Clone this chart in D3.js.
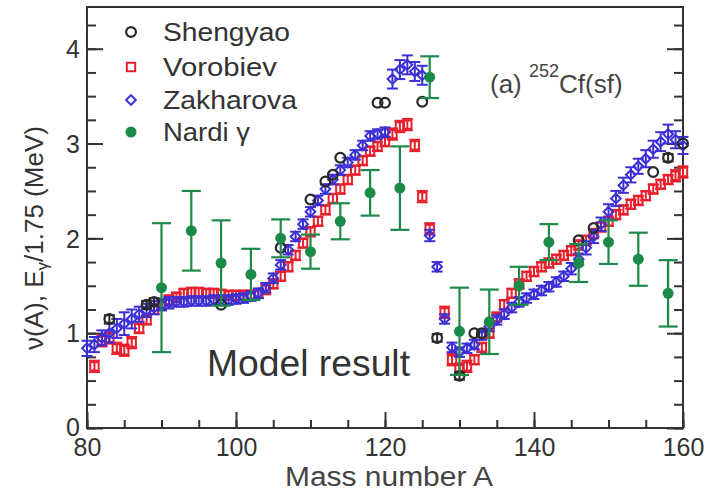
<!DOCTYPE html>
<html><head><meta charset="utf-8">
<script src="https://cdn.jsdelivr.net/npm/d3@7"></script>
<style>
html,body{margin:0;padding:0;background:#fff;}
svg{display:block;font-family:"Liberation Sans",Arial,sans-serif;}
</style></head><body>
<script>
// ---------- data ----------
const xTicks = [80, 100, 120, 140, 160];
const yTicks = [0, 1, 2, 3, 4];

const nardiA   = [90, 94, 98, 102, 106, 110, 114, 118, 122, 126, 130, 134, 138, 142, 146, 150, 154, 158];
const nardiV   = [1.48, 2.08, 1.74, 1.62, 2.00, 1.86, 2.18, 2.48, 2.53, 3.70, 1.02, 1.12, 1.50, 1.96, 1.74, 1.96, 1.78, 1.42];
const nardiErr = [0.68, 0.42, 0.45, 0.27, 0.20, 0.18, 0.19, 0.24, 0.44, 0.22, 0.46, 0.34, 0.20, 0.19, 0.20, 0.23, 0.28, 0.35];

const shengA   = [83, 88, 89, 98, 106, 110, 112, 113, 114, 119, 120, 125, 127, 130, 132, 133, 146, 148, 156, 158, 160];
const shengV   = [1.15, 1.30, 1.33, 1.30, 1.90, 2.41, 2.60, 2.67, 2.85, 3.43, 3.43, 3.44, 0.95, 0.55, 1.00, 1.00, 1.98, 2.11, 2.70, 2.85, 3.00];
const shengErr = [0.04, 0.04, 0.04, 0.00, 0.00, 0.00, 0.00, 0.00, 0.00, 0.00, 0.00, 0.00, 0.04, 0.04, 0.00, 0.00, 0.00, 0.00, 0.00, 0.04, 0.00];

const voroA = [81,82,83,84,85,86,87,88,89,90,91,92,93,94,95,96,97,98,99,100,
               101,102,103,104,105,106,107,108,109,110,111,112,113,114,115,116,117,118,119,120,
               121,122,123,124,125,126,128,129,130,131,132,133,134,135,136,137,138,139,140,
               141,142,143,144,145,146,147,148,149,150,151,152,153,154,155,156,157,158,159,160];
const voroV = [0.65,0.92,0.95,0.84,0.82,0.90,1.05,1.14,1.25,1.30,1.35,1.38,1.42,1.43,1.43,1.42,1.42,1.41,1.40,1.40,
               1.40,1.40,1.42,1.46,1.52,1.60,1.70,1.82,1.95,2.07,2.18,2.30,2.42,2.52,2.62,2.72,2.82,2.92,2.97,3.02,
               3.10,3.18,3.20,2.98,2.44,2.10,1.22,0.72,0.62,0.65,0.72,0.85,1.00,1.17,1.30,1.42,1.52,1.60,1.65,
               1.70,1.74,1.78,1.82,1.87,1.93,1.98,2.05,2.12,2.18,2.25,2.30,2.36,2.40,2.45,2.52,2.57,2.62,2.66,2.70];
const voroErr = [0.06,0.06,0.06,0.06,0.06,0.06,0.05,0.05,0.05,0.05,0.05,0.05,0.05,0.05,0.05,0.05,0.05,0.05,0.05,0.05,
                 0.05,0.05,0.05,0.05,0.05,0.05,0.05,0.05,0.05,0.05,0.05,0.05,0.05,0.05,0.05,0.05,0.05,0.05,0.05,0.05,
                 0.06,0.06,0.06,0.06,0.06,0.06,0.06,0.06,0.06,0.06,0.05,0.05,0.05,0.05,0.05,0.05,0.05,0.05,0.05,
                 0.05,0.05,0.05,0.05,0.05,0.05,0.05,0.05,0.05,0.05,0.05,0.05,0.05,0.05,0.05,0.05,0.05,0.05,0.06,0.06];

const zakA = [80,81,82,83,84,85,86,87,88,89,90,91,92,93,94,95,96,97,98,99,100,
              101,102,103,104,105,106,107,108,109,110,111,112,113,114,115,116,117,118,119,120,
              121,122,123,124,125,126,127,128,129,130,131,132,133,134,135,136,137,138,139,140,
              141,142,143,144,145,146,147,148,149,150,151,152,153,154,155,156,157,158,159,160];
const zakV = [0.84,0.88,0.95,1.00,1.05,1.10,1.15,1.20,1.24,1.27,1.30,1.32,1.33,1.33,1.34,1.34,1.34,1.35,1.35,1.35,1.36,
              1.37,1.39,1.42,1.48,1.58,1.72,1.88,2.02,2.15,2.28,2.40,2.52,2.62,2.72,2.80,2.88,2.98,3.08,3.10,3.12,
              3.68,3.78,3.83,3.76,3.72,2.03,1.70,1.15,0.85,0.80,0.84,0.88,0.98,1.07,1.14,1.20,1.27,1.33,1.37,1.41,
              1.45,1.49,1.54,1.60,1.68,1.78,1.90,2.02,2.15,2.28,2.42,2.56,2.67,2.76,2.84,2.94,3.02,3.10,3.04,2.98];
const zakErr = [0.08,0.08,0.08,0.10,0.10,0.12,0.10,0.08,0.07,0.07,0.06,0.06,0.05,0.05,0.05,0.05,0.05,0.05,0.05,0.05,0.05,
                0.05,0.05,0.05,0.05,0.05,0.05,0.05,0.05,0.05,0.05,0.05,0.05,0.05,0.05,0.05,0.05,0.05,0.05,0.05,0.05,
                0.10,0.10,0.10,0.10,0.10,0.06,0.05,0.05,0.05,0.05,0.05,0.05,0.05,0.05,0.05,0.05,0.05,0.05,0.05,0.05,
                0.05,0.05,0.05,0.05,0.06,0.06,0.07,0.07,0.07,0.08,0.08,0.08,0.08,0.08,0.09,0.09,0.10,0.10,0.09,0.09];

const legendLabels = ["Shengyao", "Vorobiev", "Zakharova", "Nardi \u03B3"];

// ---------- drawing ----------
const W = 710, H = 492;
const svg = d3.select("body").append("svg").attr("width", W).attr("height", H);
const x = d3.scaleLinear().domain([80, 160]).range([87, 683]);
const y = d3.scaleLinear().domain([0, 4.44]).range([428, 7]);

const colBlack = "#2a2a2a", colRed = "#e8202c", colBlue = "#3b2fd6", colGreen = "#1c8a48";
const axisCol = "#333";

// frame
svg.append("rect").attr("x", 87).attr("y", 7).attr("width", 596).attr("height", 421)
  .attr("fill", "none").attr("stroke", axisCol).attr("stroke-width", 2);

function styleAxis(g){
  g.select(".domain").remove();
  g.selectAll(".tick line").attr("stroke", axisCol).attr("stroke-width", 2);
  g.selectAll(".tick text").attr("fill", "#333").style("font-size", "25px")
    .style("font-family", "'Liberation Sans', Arial, sans-serif");
}
const xMinor = d3.range(80, 161, 5);
const yMinor = d3.range(0, 4.44, 0.25);

// bottom axis
svg.append("g").attr("transform", "translate(0,428)")
  .call(d3.axisBottom(x).tickValues(xMinor).tickSize(-8).tickFormat(""))
  .call(styleAxis);
svg.append("g").attr("transform", "translate(0,428)")
  .call(d3.axisBottom(x).tickValues(xTicks).tickSize(-16).tickPadding(10).tickFormat(d3.format("d")))
  .call(styleAxis);
// left axis
svg.append("g").attr("transform", "translate(87,0)")
  .call(d3.axisLeft(y).tickValues(yMinor).tickSize(-9).tickFormat(""))
  .call(styleAxis);
svg.append("g").attr("transform", "translate(87,0)")
  .call(d3.axisLeft(y).tickValues(yTicks).tickSize(-16).tickFormat(d3.format("d")))
  .call(styleAxis)
  .call(g => g.selectAll(".tick text").attr("x", -7).attr("dy", d => d === 0 ? "0.3em" : "0.35em"));
// right axis
svg.append("g").attr("transform", "translate(683,0)")
  .call(d3.axisRight(y).tickValues(yMinor).tickSize(-9).tickFormat(""))
  .call(styleAxis);
svg.append("g").attr("transform", "translate(683,0)")
  .call(d3.axisRight(y).tickValues(yTicks).tickSize(-16).tickFormat(""))
  .call(styleAxis);

// axis titles
svg.append("text").attr("x", 285).attr("y", 486)
  .attr("textLength", 208).attr("lengthAdjust", "spacingAndGlyphs")
  .attr("fill", "#444").style("font-size", "27px").text("Mass number A");
const yt = svg.append("text").attr("transform", "translate(43,238) rotate(-90)")
  .attr("text-anchor", "middle").attr("fill", "#333").style("font-size", "26px");
yt.append("tspan").text("\u03BD(A),  E");
yt.append("tspan").attr("baseline-shift", "-30%").style("font-size", "17px").text("\u03B3");
yt.append("tspan").text("/1.75 (MeV)");

// error bar helper
function errorBars(A, V, E, color, capW, sw){
  const g = svg.append("g").attr("stroke", color).attr("stroke-width", sw).attr("fill", "none");
  A.forEach((a, i) => {
    if (!E[i]) return;
    const cx = x(a), y1 = y(V[i] + E[i]), y2 = y(V[i] - E[i]);
    g.append("line").attr("x1", cx).attr("x2", cx).attr("y1", y1).attr("y2", y2);
    g.append("line").attr("x1", cx - capW/2).attr("x2", cx + capW/2).attr("y1", y1).attr("y2", y1);
    g.append("line").attr("x1", cx - capW/2).attr("x2", cx + capW/2).attr("y1", y2).attr("y2", y2);
  });
}

const symSquare = d3.symbol().type(d3.symbolSquare).size(70);
const symDiamond = d3.symbol().type(d3.symbolDiamond2).size(60);
const symCircle = d3.symbol().type(d3.symbolCircle).size(75);

// Vorobiev (red squares)
errorBars(voroA, voroV, voroErr, colRed, 11, 2);
svg.append("g").selectAll("path").data(voroA).join("path")
  .attr("d", symSquare).attr("transform", (a, i) => `translate(${x(a)},${y(voroV[i])})`)
  .attr("fill", "none").attr("stroke", colRed).attr("stroke-width", 2);

// Zakharova (blue diamonds)
errorBars(zakA, zakV, zakErr, colBlue, 11, 2);
svg.append("g").selectAll("path").data(zakA).join("path")
  .attr("d", symDiamond).attr("transform", (a, i) => `translate(${x(a)},${y(zakV[i])})`)
  .attr("fill", "none").attr("stroke", colBlue).attr("stroke-width", 2);

// Shengyao (black circles)
errorBars(shengA, shengV, shengErr, colBlack, 11, 2);
svg.append("g").selectAll("path").data(shengA).join("path")
  .attr("d", symCircle).attr("transform", (a, i) => `translate(${x(a)},${y(shengV[i])})`)
  .attr("fill", "none").attr("stroke", colBlack).attr("stroke-width", 2.2);

// Nardi gamma (green filled)
errorBars(nardiA, nardiV, nardiErr, colGreen, 19, 2.2);
svg.append("g").selectAll("circle").data(nardiA).join("circle")
  .attr("cx", a => x(a)).attr("cy", (a, i) => y(nardiV[i])).attr("r", 5.5)
  .attr("fill", colGreen);

// legend
const legY = [32, 67, 100, 132];
const legW = [127, 114, 134, 87];
const lg = svg.append("g");
lg.append("path").attr("d", symCircle).attr("transform", `translate(131,${legY[0]})`)
  .attr("fill", "none").attr("stroke", colBlack).attr("stroke-width", 2.2);
lg.append("path").attr("d", symSquare).attr("transform", `translate(131,${legY[1]})`)
  .attr("fill", "none").attr("stroke", colRed).attr("stroke-width", 2);
lg.append("path").attr("d", symDiamond).attr("transform", `translate(131,${legY[2]})`)
  .attr("fill", "none").attr("stroke", colBlue).attr("stroke-width", 2);
lg.append("circle").attr("cx", 131).attr("cy", legY[3]).attr("r", 5.5).attr("fill", colGreen);
legendLabels.forEach((t, i) => {
  lg.append("text").attr("x", 163).attr("y", legY[i] + 9).attr("fill", "#333")
    .attr("textLength", legW[i]).attr("lengthAdjust", "spacingAndGlyphs")
    .style("font-size", "26px").text(t);
});

// annotations
const ann = svg.append("text").attr("x", 490).attr("y", 93).attr("fill", "#444").style("font-size", "26px");
ann.append("tspan").text("(a) ");
ann.append("tspan").attr("dy", -16).style("font-size", "18px").text("252");
ann.append("tspan").attr("dy", 16).text("Cf(sf)");

svg.append("text").attr("x", 207).attr("y", 376).attr("fill", "#333")
  .attr("textLength", 203).attr("lengthAdjust", "spacingAndGlyphs")
  .style("font-size", "36px").text("Model result");
</script>
</body></html>
